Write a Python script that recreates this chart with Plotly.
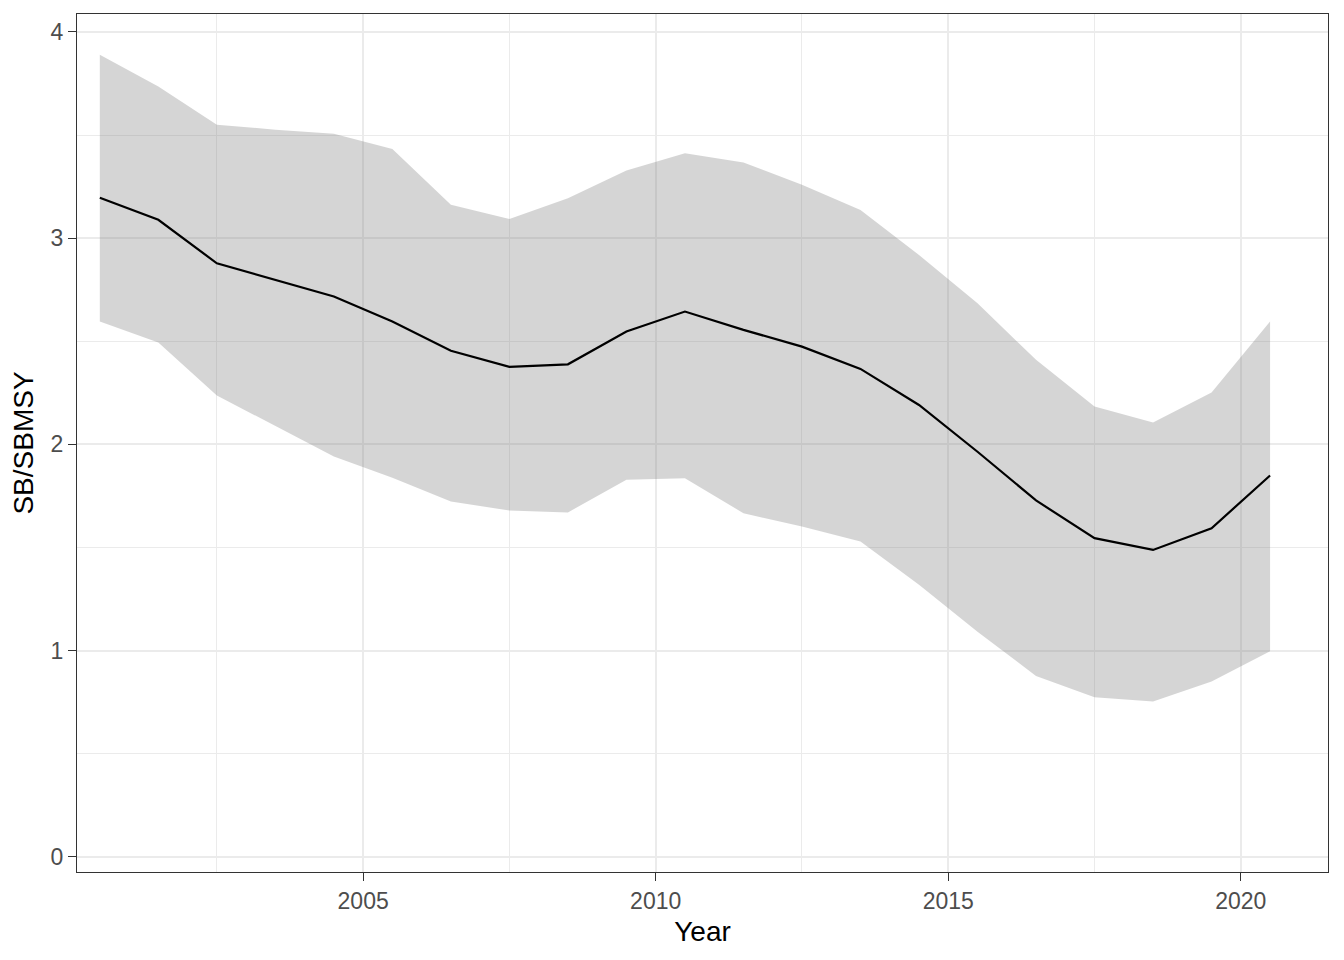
import plotly.graph_objects as go

years = [2000.5, 2001.5, 2002.5, 2003.5, 2004.5, 2005.5, 2006.5, 2007.5, 2008.5, 2009.5,
         2010.5, 2011.5, 2012.5, 2013.5, 2014.5, 2015.5, 2016.5, 2017.5, 2018.5, 2019.5, 2020.5]
median = [3.196, 3.089, 2.878, 2.798, 2.717, 2.596, 2.454, 2.376, 2.388, 2.547,
          2.644, 2.555, 2.474, 2.366, 2.191, 1.964, 1.728, 1.545, 1.488, 1.593, 1.849]
upper = [3.889, 3.736, 3.550, 3.526, 3.506, 3.432, 3.162, 3.093, 3.194, 3.328,
         3.412, 3.367, 3.259, 3.137, 2.918, 2.684, 2.410, 2.183, 2.106, 2.251, 2.596]
lower = [2.596, 2.494, 2.237, 2.090, 1.941, 1.838, 1.723, 1.679, 1.670, 1.828,
         1.836, 1.666, 1.601, 1.529, 1.319, 1.091, 0.877, 0.774, 0.753, 0.850, 0.996]

x_ticks = [2005, 2010, 2015, 2020]
y_ticks = [0, 1, 2, 3, 4]

fig = go.Figure()
fig.add_trace(go.Scatter(x=years, y=lower, mode="lines", line=dict(width=0),
                         hoverinfo="skip", showlegend=False))
fig.add_trace(go.Scatter(x=years, y=upper, mode="lines", line=dict(width=0),
                         fill="tonexty", fillcolor="rgba(128,128,128,0.33)",
                         hoverinfo="skip", showlegend=False))
fig.add_trace(go.Scatter(x=years, y=median, mode="lines",
                         line=dict(color="black", width=2.2), showlegend=False))

axis_common = dict(
    showline=True, linecolor="#333333", linewidth=1.3, mirror=True,
    ticks="outside", ticklen=8, tickwidth=1.4, tickcolor="#333333",
    showgrid=True, gridcolor="#EBEBEB", gridwidth=1.5,
    zeroline=False,
    tickfont=dict(family="Liberation Sans, Arial, sans-serif", size=23, color="#4D4D4D"),
)

fig.update_xaxes(
    **axis_common,
    range=[2000.11, 2021.49],
    tickvals=x_ticks, ticktext=[str(v) for v in x_ticks],
    minor=dict(tickvals=[2002.5, 2007.5, 2012.5, 2017.5], showgrid=True,
               gridcolor="#EBEBEB", gridwidth=0.8, ticks=""),
    title=dict(text="Year", standoff=8,
               font=dict(family="Liberation Sans, Arial, sans-serif", size=28, color="black")),
)
fig.update_yaxes(
    **axis_common,
    range=[-0.074, 4.087],
    tickvals=y_ticks, ticktext=[str(v) for v in y_ticks],
    minor=dict(tickvals=[0.5, 1.5, 2.5, 3.5], showgrid=True,
               gridcolor="#EBEBEB", gridwidth=0.8, ticks=""),
    title=dict(text="SB/SBMSY", standoff=10,
               font=dict(family="Liberation Sans, Arial, sans-serif", size=28, color="black")),
)

fig.update_layout(
    width=1336, height=952,
    margin=dict(l=69, r=16, t=6, b=88, autoexpand=False),
    plot_bgcolor="white", paper_bgcolor="white",
    showlegend=False,
)

fig.write_html("out.html")
